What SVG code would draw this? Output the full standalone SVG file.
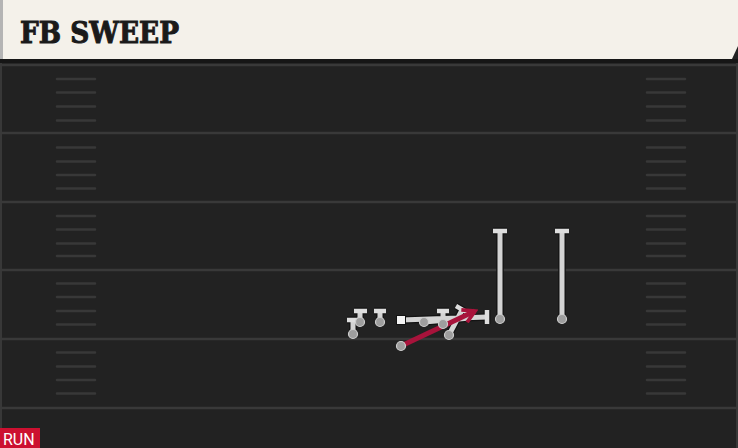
<svg xmlns="http://www.w3.org/2000/svg" width="738" height="448" viewBox="0 0 738 448">
<style>
.yard{stroke:#393939;stroke-width:2.5;fill:none}
.hash{stroke:#383838;stroke-width:2.5;fill:none;stroke-linecap:round}
.out{stroke:#131313;stroke-width:7.5;fill:none}
.rt{stroke:#d4d4d4;stroke-width:5;fill:none}
.bar-o{stroke:#131313;stroke-width:7;fill:none}
.bar{stroke:#dedede;stroke-width:4.5;fill:none}
.pl{fill:#9e9e9e;stroke:#cfcfcf;stroke-width:1.2}
.carry{stroke:#a8133b;stroke-width:5;fill:none}
.title{font-family:"DejaVu Serif","Liberation Serif",serif;font-weight:bold;font-size:29px;fill:#1a1a1a;stroke:#1a1a1a;stroke-width:1}
.tag{font-family:Roboto,"Liberation Sans",sans-serif;font-size:16px;fill:#ffffff}
</style>
<defs>
<marker id="ah" viewBox="0 0 10 10" refX="8" refY="5" markerWidth="3.4" markerHeight="3.4" orient="auto" markerUnits="strokeWidth">
<path d="M1,1 L8,5 L1,9" fill="none" stroke="#a8133b" stroke-width="2.2"/>
</marker>
</defs>
<rect x="0" y="0" width="738" height="448" fill="#222222"/>
<rect x="0" y="59" width="738" height="4" fill="#161616"/>
<line x1="1" y1="63" x2="1" y2="448" stroke="#383838" stroke-width="2"/>
<line x1="737" y1="63" x2="737" y2="448" stroke="#383838" stroke-width="2"/>
<g id="yardlines">
<line class="yard" x1="0" y1="65" x2="738" y2="65"/>
<line class="yard" x1="0" y1="133" x2="738" y2="133"/>
<line class="yard" x1="0" y1="202" x2="738" y2="202"/>
<line class="yard" x1="0" y1="270" x2="738" y2="270"/>
<line class="yard" x1="0" y1="339" x2="738" y2="339"/>
<line class="yard" x1="0" y1="408" x2="738" y2="408"/>
</g>
<g id="hashes">
<path class="hash" d="M57,79H95M57,92.5H95M57,106.5H95M57,120.5H95M57,147.5H95M57,161.5H95M57,175H95M57,188.5H95M57,216H95M57,229.5H95M57,243.5H95M57,256H95M57,283.5H95M57,297H95M57,311H95M57,324.5H95M57,352.5H95M57,366.5H95M57,380H95M57,393.5H95"/>
<path class="hash" d="M647,79H685M647,92.5H685M647,106.5H685M647,120.5H685M647,147.5H685M647,161.5H685M647,175H685M647,188.5H685M647,216H685M647,229.5H685M647,243.5H685M647,256H685M647,283.5H685M647,297H685M647,311H685M647,324.5H685M647,352.5H685M647,366.5H685M647,380H685M647,393.5H685"/>
</g>
<g id="header">
<path d="M0,0H738V46L732,59H0Z" fill="#f4f1ea"/>
<rect x="0" y="0" width="3" height="59" fill="#b4b4b4"/>
<text class="title" x="20" y="43" textLength="159" lengthAdjust="spacingAndGlyphs">FB SWEEP</text>
</g>
<g id="connectors">
<path class="out" d="M353,334V320M360,322V311M380,322V311M443,324V311M401,320L487,317M424,322L470,318M449,335L462,310M500,319V231M562,319V231"/>
<path class="bar-o" d="M347,320H359M354,311H367M374,311H386M437,311H449M487,310V324M456,306L468,313M493,231H507M555,231H569"/>
<path class="rt" d="M353,334V320M360,322V311M380,322V311M443,324V311M401,320L487,317M424,322L470,318M449,335L462,310M500,319V231M562,319V231"/>
<path class="bar" d="M347,320H359M354,311H367M374,311H386M437,311H449M487,310V324M456,306L468,313M493,231H507M555,231H569"/>
<path class="carry" d="M401,346L475,311" marker-end="url(#ah)"/>
</g>
<g id="p1"><circle class="pl" cx="353" cy="334" r="4.5"/></g>
<g id="p2"><circle class="pl" cx="360" cy="322" r="4.5"/></g>
<g id="p3"><circle class="pl" cx="380" cy="322" r="4.5"/></g>
<g id="center"><rect x="396.5" y="315.5" width="9" height="9" fill="#f4f4f4" stroke="#131313" stroke-width="1"/></g>
<g id="p4"><circle class="pl" cx="424" cy="322" r="4.5"/></g>
<g id="p5"><circle class="pl" cx="443" cy="324" r="4.5"/></g>
<g id="p6"><circle class="pl" cx="449" cy="335" r="4.5"/></g>
<g id="p7"><circle class="pl" cx="500" cy="319" r="4.5"/></g>
<g id="p8"><circle class="pl" cx="562" cy="319" r="4.5"/></g>
<g id="fb"><circle class="pl" cx="401" cy="346" r="4.5"/></g>
<g id="run-tag">
<rect x="0" y="428" width="40" height="20" fill="#cc1030"/>
<text class="tag" x="3" y="445">RUN</text>
</g>
</svg>
